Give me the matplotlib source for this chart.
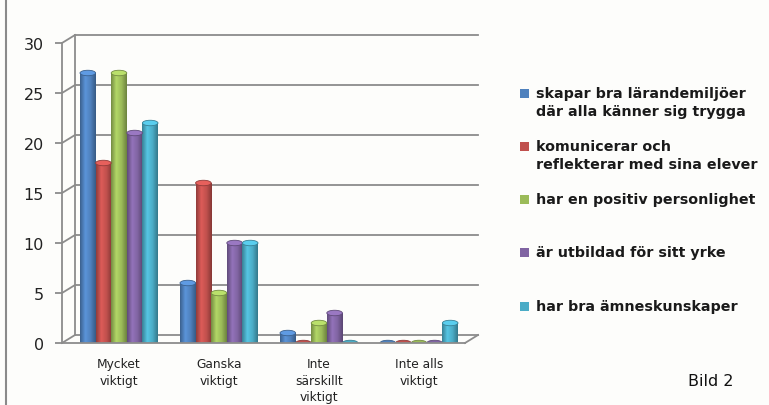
import numpy as np
import matplotlib.pyplot as plt
import matplotlib.transforms as mtransforms
from matplotlib.colors import LinearSegmentedColormap, to_rgb
from matplotlib.patches import Ellipse, Rectangle
from matplotlib.lines import Line2D

# data
categories = ["Mycket\nviktigt", "Ganska\nviktigt", "Inte\nsärskillt\nviktigt", "Inte alls\nviktigt"]
series_names = [
    "skapar bra lärandemiljöer\ndär alla känner sig trygga",
    "komunicerar och\nreflekterar med sina elever",
    "har en positiv personlighet",
    "är utbildad för sitt yrke",
    "har bra ämneskunskaper",
]
skapar = [27, 6, 1, 0]
komunicerar = [18, 16, 0, 0]
positiv = [27, 5, 2, 0]
utbildad = [21, 10, 3, 0]
amnes = [22, 10, 0, 2]
series = [skapar, komunicerar, positiv, utbildad, amnes]
colors = ["#4f81bd", "#c0504d", "#9bbb59", "#8064a2", "#4bacc6"]
yticks = [0, 5, 10, 15, 20, 25, 30]

W, H = 769, 406
fig = plt.figure(figsize=(W / 100, H / 100), dpi=100)
fig.patch.set_facecolor("#fdfdfb")


def fx(x):
    return x / W


def fy(y):
    return 1 - y / H


# axes placed in pixel space
ax = fig.add_axes([fx(62), fy(344), fx(465) - fx(62), fy(44) - fy(344)])
ax.set_facecolor("none")
ax.set_ylim(0, 30)
ax.set_xlim(-0.57, 3.46)
for s in ax.spines.values():
    s.set_visible(False)

grey = "#8c8c8c"
# back wall shifted right/up for the 3d look
shift = mtransforms.ScaledTranslation(0.13, 0.08, fig.dpi_scale_trans)
back = ax.transData + shift
x0, x1 = ax.get_xlim()
for v in yticks:
    ax.plot([x0, x1], [v, v], color=grey, lw=1.3, transform=back, clip_on=False, zorder=1)
    # diagonal connector from front axis to back wall
    ax.plot([fx(62), fx(75)], [fy(344 - v * 10), fy(344 - v * 10 - 8)], color=grey, lw=1.3,
            transform=fig.transFigure, clip_on=False, zorder=1)
# back vertical edge and floor
ax.plot([x0, x0], [0, 30], color=grey, lw=1.3, transform=back, clip_on=False, zorder=1)
ax.plot([x0, x1], [0, 0], color=grey, lw=1.3, clip_on=False, zorder=4)
ax.plot([fx(465), fx(478)], [fy(344), fy(336)], color=grey, lw=1.3,
        transform=fig.transFigure, clip_on=False, zorder=4)
ax.plot([x0, x0], [0, 30], color=grey, lw=1.3, clip_on=False, zorder=4)

ax.set_yticks(yticks)
ax.tick_params(axis="y", length=5, color=grey, width=1.3, labelsize=11.5, pad=8, labelcolor="#222222")
ax.set_xticks(range(len(categories)))
ax.set_xticklabels(categories, fontsize=8.8, linespacing=1.38, color="#222222")
ax.tick_params(axis="x", length=0, pad=10)

# cylinder-ish bars
bw = 0.156
x = np.arange(len(categories))
grad = np.linspace(0, 1, 64).reshape(1, -1)
for i, (vals, c) in enumerate(zip(series, colors)):
    base = np.array(to_rgb(c))
    cmap = LinearSegmentedColormap.from_list(
        "cyl", [base * 0.75, np.minimum(base * 1.15, 1), base, base * 0.7])
    xs = x + (i - 2) * bw
    bars = ax.bar(xs, vals, width=bw, color=c, zorder=3)
    for b, v in zip(bars, vals):
        bx = b.get_x()
        if v > 0:
            im = ax.imshow(grad, extent=[bx, bx + bw, 0, v], cmap=cmap, aspect="auto", zorder=3)
            im.set_clip_path(b)
        top = np.minimum(base * 1.2, 1) if v > 0 else base
        ax.add_patch(Ellipse((bx + bw / 2, v), bw, 0.55, facecolor=top,
                             edgecolor=base * 0.75, lw=0.6, zorder=3.5))
ax.set_xlim(x0, x1)
ax.set_ylim(0, 30)

# legend drawn by hand
leg_y = [95, 148, 201, 254, 308]
for name, c, y in zip(series_names, colors, leg_y):
    fig.patches.append(Rectangle((fx(520), fy(y + 4)), fx(9), 9 / H, transform=fig.transFigure,
                                 facecolor=c, edgecolor="none"))
    fig.text(fx(536), fy(y - 8), name, fontsize=10.3, fontweight="bold", va="top", ha="left",
             linespacing=1.4, color="#1a1a1a")

fig.text(fx(688), fy(382), "Bild 2", fontsize=11.5, va="center", ha="left", color="#111111")
fig.add_artist(Line2D([fx(6), fx(6)], [0, 1], color="#8a8a8a", lw=1.5))

fig.savefig("out.png", dpi=100, facecolor=fig.get_facecolor())
